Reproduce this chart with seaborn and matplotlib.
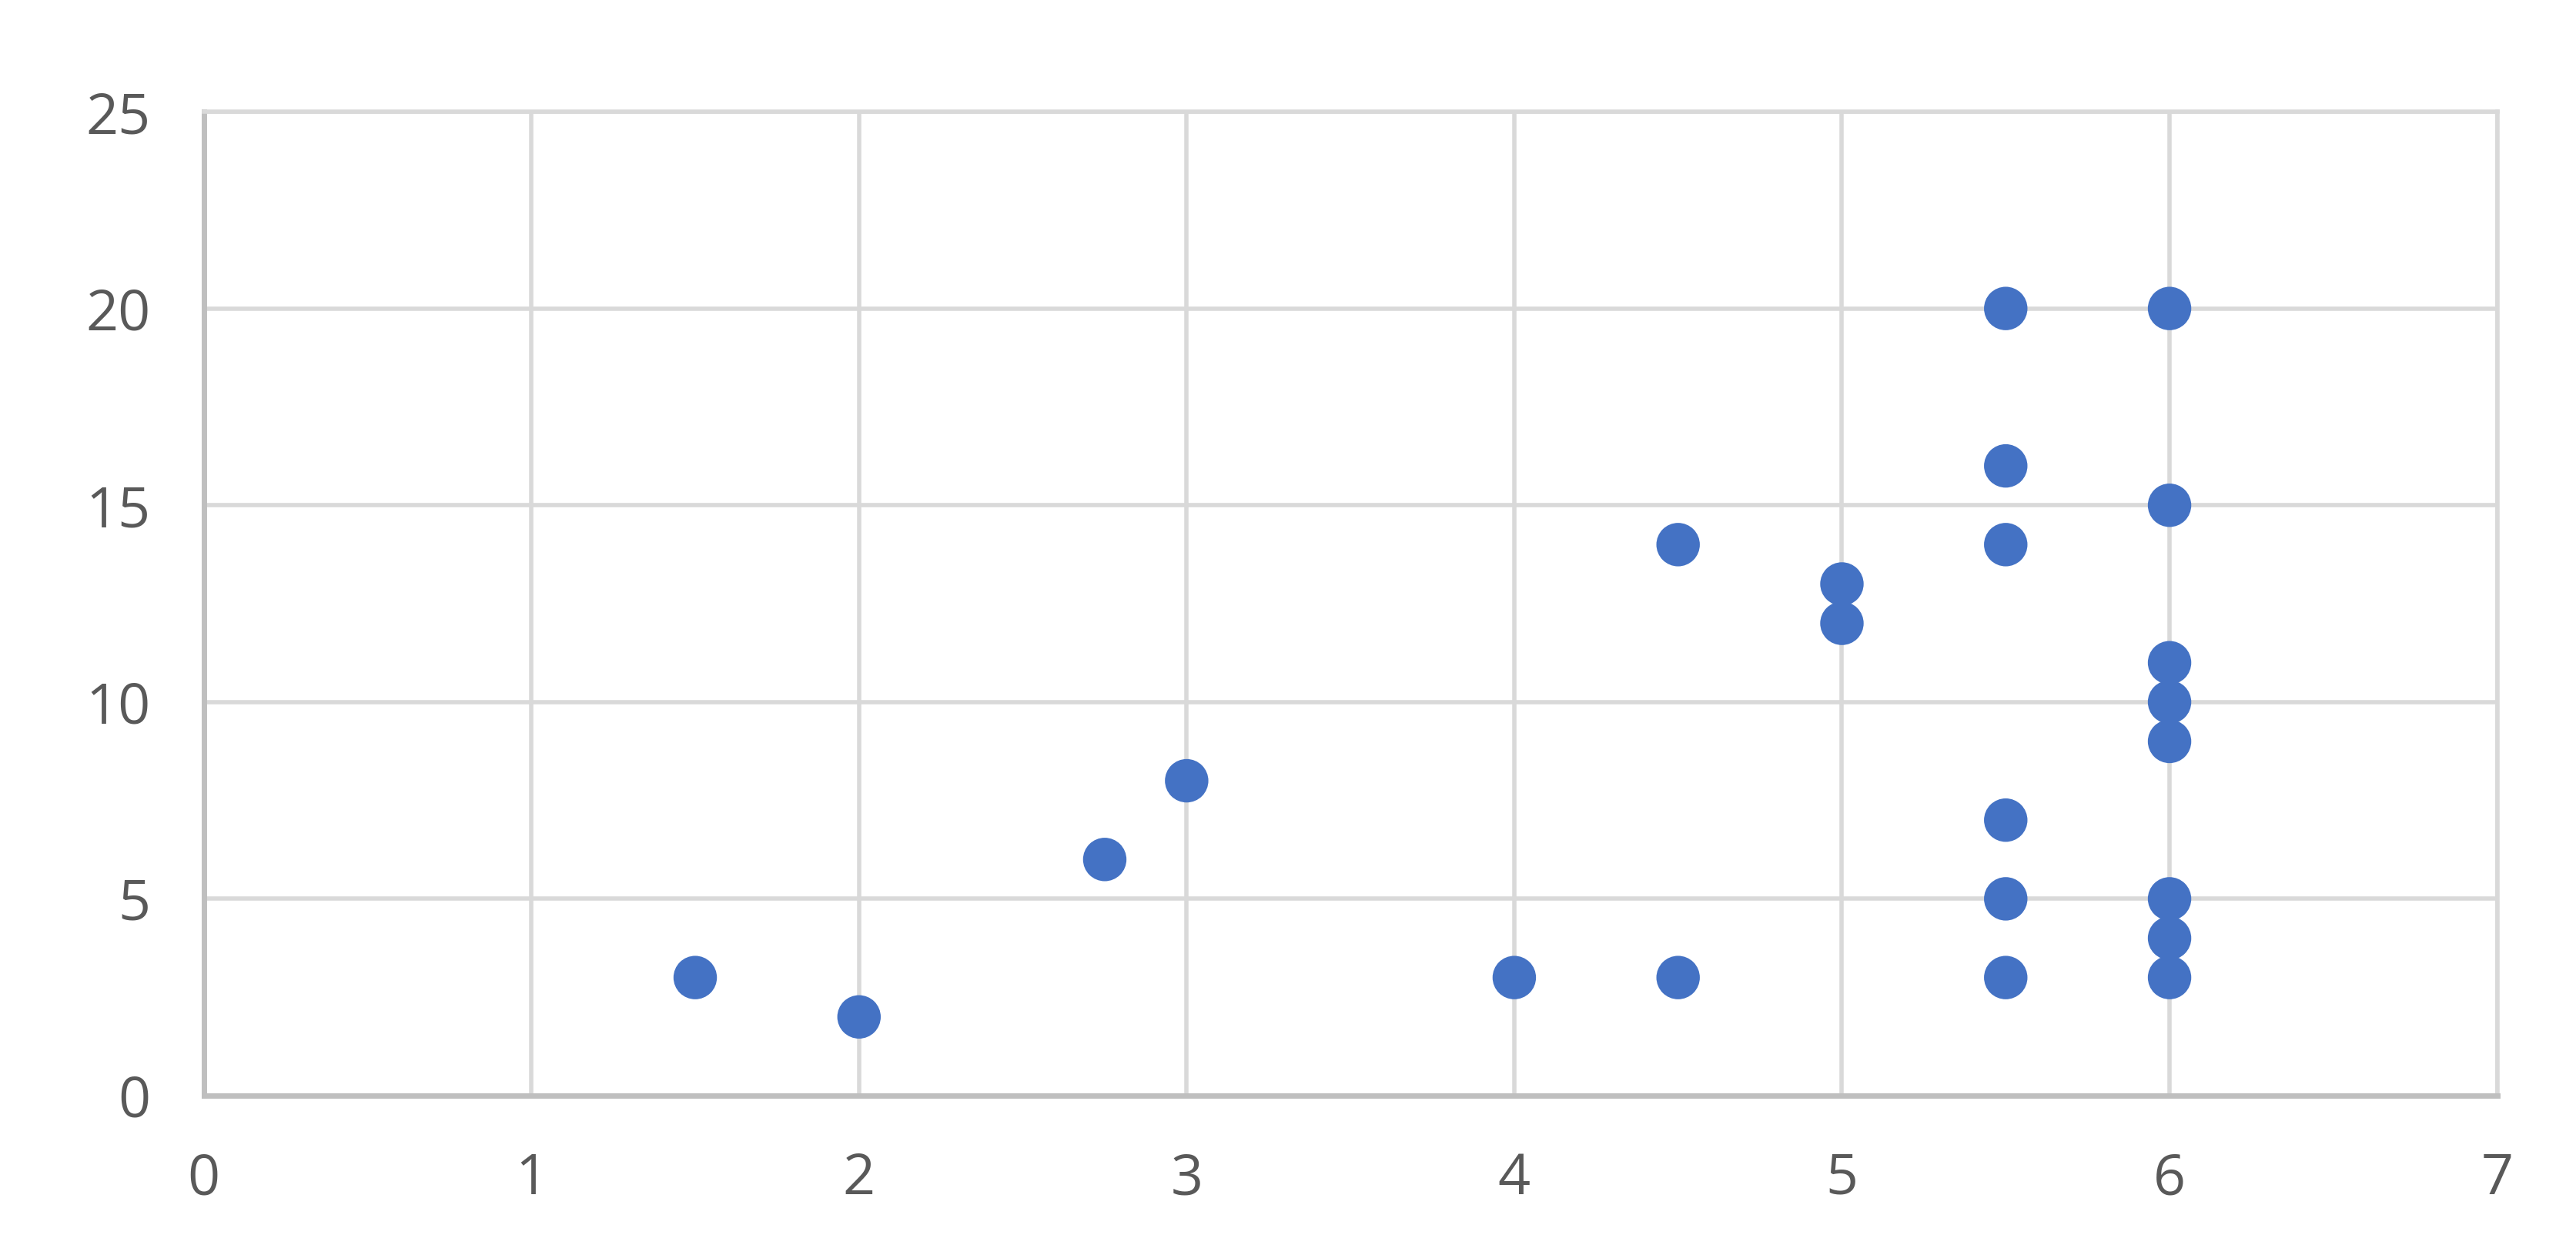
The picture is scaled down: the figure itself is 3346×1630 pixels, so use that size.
import matplotlib
matplotlib.use("Agg")
import matplotlib.pyplot as plt
import seaborn as sns
import pandas as pd

# scatter values
x_vals = [1.5, 2, 2.75, 3, 4, 4.5, 4.5, 5, 5, 5.5, 5.5, 5.5, 5.5, 5.5, 5.5,
          6, 6, 6, 6, 6, 6, 6, 6]
y_vals = [3, 2, 6, 8, 3, 3, 14, 13, 12, 20, 16, 14, 7, 5, 3,
          20, 15, 11, 10, 9, 5, 4, 3]
x_ticks = [0, 1, 2, 3, 4, 5, 6, 7]
y_ticks = [0, 5, 10, 15, 20, 25]

df = pd.DataFrame({"x": x_vals, "y": y_vals})

sns.set_style("white")
plt.rcParams["font.family"] = ["Open Sans", "DejaVu Sans"]

fig = plt.figure(figsize=(33.46, 16.30), dpi=100)
ax = fig.add_axes([0.0791, 0.127, 0.8903, 0.784])

sns.scatterplot(data=df, x="x", y="y", ax=ax, s=1650, color="#4472C4",
                edgecolor="none", zorder=3, legend=False)

ax.set_xlim(0, 7)
ax.set_ylim(0, 25)
ax.set_xticks(x_ticks)
ax.set_yticks(y_ticks)
ax.grid(True, color="#D9D9D9", linewidth=4)
ax.set_axisbelow(True)
for side in ["top", "right"]:
    ax.spines[side].set_color("#D9D9D9")
    ax.spines[side].set_linewidth(4)
for side in ["left", "bottom"]:
    ax.spines[side].set_color("#BFBFBF")
    ax.spines[side].set_linewidth(5)
ax.tick_params(axis="both", length=0, labelsize=53, labelcolor="#595959")
ax.tick_params(axis="x", pad=52)
ax.tick_params(axis="y", pad=50)
ax.set_xlabel("")
ax.set_ylabel("")

fig.savefig("out.png", dpi=100, facecolor="white")
